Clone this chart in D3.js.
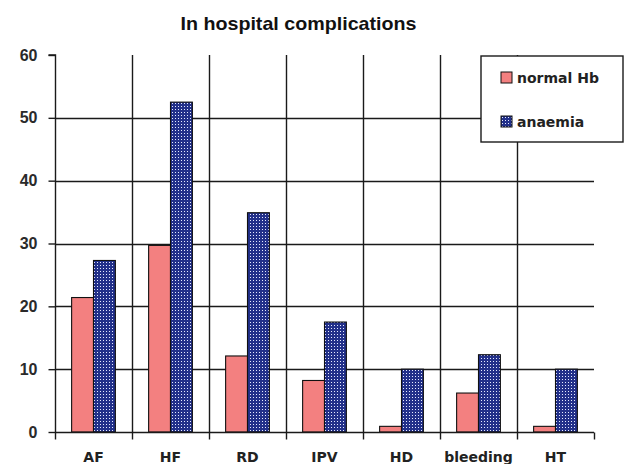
<!DOCTYPE html>
<html>
<head>
<meta charset="utf-8">
<script src="https://cdn.jsdelivr.net/npm/d3@7/dist/d3.min.js"></script>
<style>
  html, body { margin: 0; padding: 0; background: #fff; }
  svg { display: block; }
</style>
</head>
<body>
<svg id="chart" width="633" height="464"></svg>
<script>
const categories = ["AF", "HF", "RD", "IPV", "HD", "bleeding", "HT"];
const seriesNames = ["normal Hb", "anaemia"];
const normalHb = [21.4, 29.7, 12.1, 8.2, 0.9, 6.2, 0.9];
const anaemia = [27.3, 52.5, 34.9, 17.5, 10.0, 12.3, 10.0];
const yTicks = [0, 10, 20, 30, 40, 50, 60];
const title = "In hospital complications";

(function () {
const svg = d3.select("#chart");
const pl = 55, pr = 594, pt = 55, pb = 432;

const x = d3.scaleBand().domain(categories).range([pl, pr]).paddingInner(0).paddingOuter(0);
const inner = d3.scaleBand().domain(seriesNames).range([0, x.bandwidth()]).paddingInner(0).paddingOuter(0.76);
const y = d3.scaleLinear().domain([0, 60]).range([pb, pt]);

const defs = svg.append("defs");
const pat = defs.append("pattern").attr("id", "dots").attr("patternUnits", "userSpaceOnUse")
  .attr("width", 3).attr("height", 3);
pat.append("rect").attr("width", 3).attr("height", 3).attr("fill", "#22308a");
pat.append("rect").attr("x", 1).attr("y", 1).attr("width", 1).attr("height", 1).attr("fill", "#e6eaff");

const fills = { "normal Hb": "#f38080", "anaemia": "url(#dots)" };
const lineColor = "#1a1a1a";
const lw = 1.4;

// horizontal gridlines
svg.append("g").selectAll("line").data(yTicks.filter(t => t > 0 && t < 60)).join("line")
  .attr("x1", pl).attr("x2", pr)
  .attr("y1", d => Math.round(y(d)) + 0.5).attr("y2", d => Math.round(y(d)) + 0.5)
  .attr("stroke", lineColor).attr("stroke-width", lw);

// vertical gridlines at interior category boundaries
const boundaries = categories.map(c => x(c)).concat([pr]);
svg.append("g").selectAll("line").data(boundaries.slice(1, -1)).join("line")
  .attr("x1", d => Math.round(d) + 0.5).attr("x2", d => Math.round(d) + 0.5)
  .attr("y1", pt).attr("y2", pb)
  .attr("stroke", lineColor).attr("stroke-width", lw);

// bars
const rows = categories.map((c, i) => ({ cat: c, values: [
  { s: "normal Hb", v: normalHb[i] }, { s: "anaemia", v: anaemia[i] } ] }));
const g = svg.append("g");
rows.forEach(r => {
  g.selectAll(null).data(r.values).join("rect")
    .attr("x", d => x(r.cat) + inner(d.s))
    .attr("y", d => y(d.v))
    .attr("width", inner.bandwidth())
    .attr("height", d => y(0) - y(d.v))
    .attr("fill", d => fills[d.s])
    .attr("stroke", "#111").attr("stroke-width", 1.1);
});

// y axis
const yAxis = d3.axisLeft(y).tickValues(yTicks).tickSize(7).tickPadding(11);
const ya = svg.append("g").attr("transform", `translate(${pl + 0.5},0)`).call(yAxis);
ya.select(".domain").attr("stroke", lineColor).attr("stroke-width", lw).attr("d", `M-7,${pt}H0V${pb}`);
ya.selectAll(".tick line").attr("stroke", lineColor).attr("stroke-width", lw);
ya.selectAll(".tick text").attr("fill", "#2a2a2a").attr("font-family", "'Liberation Sans', Arial, sans-serif")
  .attr("font-weight", "bold").attr("font-size", 16);

// x axis
const xa = svg.append("g").attr("transform", `translate(0,${pb + 0.5})`);
xa.append("line").attr("x1", pl).attr("x2", pr).attr("stroke", lineColor).attr("stroke-width", lw);
xa.selectAll(".tk").data(boundaries).join("line").attr("class", "tk")
  .attr("x1", d => Math.round(d) + 0.5).attr("x2", d => Math.round(d) + 0.5)
  .attr("y1", 0).attr("y2", 7).attr("stroke", lineColor).attr("stroke-width", lw);
xa.selectAll("text.lbl").data(categories).join("text").attr("class", "lbl")
  .attr("x", d => x(d) + x.bandwidth() / 2).attr("y", 29)
  .attr("text-anchor", "middle").attr("fill", "#222")
  .attr("font-family", "'DejaVu Sans', sans-serif").attr("font-weight", "bold").attr("font-size", 14)
  .text(d => d);

// title
svg.append("text").attr("x", 298.5).attr("y", 30).attr("text-anchor", "middle")
  .attr("font-family", "'Liberation Sans', Arial, sans-serif").attr("font-weight", "bold")
  .attr("font-size", 19).attr("fill", "#111")
  .attr("textLength", 236).attr("lengthAdjust", "spacingAndGlyphs")
  .text(title);

// legend
const lg = svg.append("g");
lg.append("rect").attr("x", 481).attr("y", 56).attr("width", 142).attr("height", 86)
  .attr("fill", "#fff").attr("stroke", lineColor).attr("stroke-width", 1.4);
const items = lg.selectAll("g.item").data(seriesNames).join("g").attr("class", "item")
  .attr("transform", (d, i) => `translate(501,${72 + i * 44})`);
items.append("rect").attr("width", 11).attr("height", 11)
  .attr("fill", d => fills[d]).attr("stroke", "#111").attr("stroke-width", 1);
items.append("text").attr("x", 16).attr("y", 11).attr("fill", "#222")
  .attr("font-family", "'DejaVu Sans', sans-serif").attr("font-weight", "bold").attr("font-size", 14)
  .text(d => d);
})();
</script>
</body>
</html>
